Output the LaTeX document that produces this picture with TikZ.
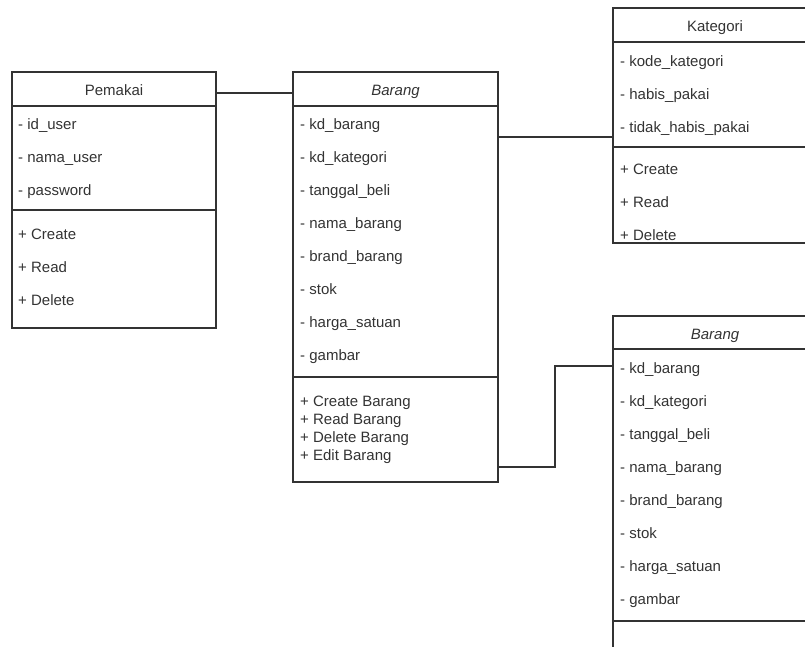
\documentclass[tikz,border=0pt]{standalone}
\usepackage{fontspec}
\setmainfont{Liberation Sans}
\usetikzlibrary{calc}
\definecolor{garis}{HTML}{333333}
\tikzset{kelas/.style={
    draw=garis,
    line width=1.2pt,
    inner sep=0,
    outer sep=0,
    anchor=north west,
    minimum width=204,
    text height=14pt,
    text depth=0.5pt,
    text=garis,
    font=\fontsize{15}{18}\selectfont}}
\tikzset{baris/.style={
    anchor=west,
    inner sep=0,
    text height=14pt,
    text depth=0.5pt,
    text=garis,
    font=\fontsize{15}{18}\selectfont}}
\tikzset{hubung/.style={
    draw=garis,
    line width=1.2pt}}

\begin{document}
\begin{tikzpicture}[x=1pt, y=-1pt]
  \useasboundingbox (0,0) rectangle (805,646);
  \clip (0,0) rectangle (805,646);

  % Pemakai
  \node[kelas, minimum height=34] (pemakai) at (12,72) {Pemakai};
  \node[kelas, minimum height=104] (pemakaiAtr) at (pemakai.south west) {};
  \node[kelas, minimum height=118] (pemakaiOp) at (pemakaiAtr.south west) {};
  \foreach \teks [count=\i] in {id\_user, nama\_user, password}
    \node[baris] (pemakaiAtr\i) at ($(pemakaiAtr.north west)+(6,17+33*\i-33)$) {- \teks};
  \foreach \teks [count=\i] in {Create, Read, Delete}
    \node[baris] (pemakaiOp\i) at ($(pemakaiOp.north west)+(6,23+33*\i-33)$) {+ \teks};

  % Barang
  \node[kelas, minimum height=34, minimum width=205] (barang) at (293,72) {\itshape Barang};
  \node[kelas, minimum height=271, minimum width=205] (barangAtr) at (barang.south west) {};
  \node[kelas, minimum height=105, minimum width=205] (barangOp) at (barangAtr.south west) {};
  \foreach \teks [count=\i] in {kd\_barang, kd\_kategori, tanggal\_beli, nama\_barang,
      brand\_barang, stok, harga\_satuan, gambar}
    \node[baris] (barangAtr\i) at ($(barangAtr.north west)+(7,17+33*\i-33)$) {- \teks};
  \foreach \teks [count=\i] in {Create Barang, Read Barang, Delete Barang, Edit Barang}
    \node[baris] (barangOp\i) at ($(barangOp.north west)+(7,23+18*\i-18)$) {+ \teks};

  % Kategori
  \node[kelas, minimum height=34] (kategori) at (613,8) {Kategori};
  \node[kelas, minimum height=105] (kategoriAtr) at (kategori.south west) {};
  \node[kelas, minimum height=96] (kategoriOp) at (kategoriAtr.south west) {};
  \foreach \teks [count=\i] in {kode\_kategori, habis\_pakai, tidak\_habis\_pakai}
    \node[baris] (kategoriAtr\i) at ($(kategoriAtr.north west)+(7,18+33*\i-33)$) {- \teks};
  \foreach \teks [count=\i] in {Create, Read, Delete}
    \node[baris] (kategoriOp\i) at ($(kategoriOp.north west)+(7,21+33*\i-33)$) {+ \teks};

  % Barang (bawah)
  \node[kelas, minimum height=33] (barangBawah) at (613,316) {\itshape Barang};
  \node[kelas, minimum height=272] (barangBawahAtr) at (barangBawah.south west) {};
  \node[kelas, minimum height=105] (barangBawahOp) at (barangBawahAtr.south west) {};
  \foreach \teks [count=\i] in {kd\_barang, kd\_kategori, tanggal\_beli, nama\_barang,
      brand\_barang, stok, harga\_satuan, gambar}
    \node[baris] (barangBawahAtr\i) at ($(barangBawahAtr.north west)+(7,18+33*\i-33)$) {- \teks};

  % hubungan
  \draw[hubung] ([yshift=-4pt]pemakai.east) -- ([yshift=-4pt]barang.west);

  \coordinate (kaitKategori) at ($(kategoriAtr.south west)+(0,-10)$);
  \draw[hubung] (barangAtr.east |- kaitKategori) -- (kaitKategori);

  \coordinate (kaitBarang) at ($(barangOp.south east)+(0,-15)$);
  \draw[hubung] (kaitBarang) -- ++(57,0) |- ([yshift=1pt]barangBawahAtr.west |- barangBawahAtr1);
\end{tikzpicture}
\end{document}
